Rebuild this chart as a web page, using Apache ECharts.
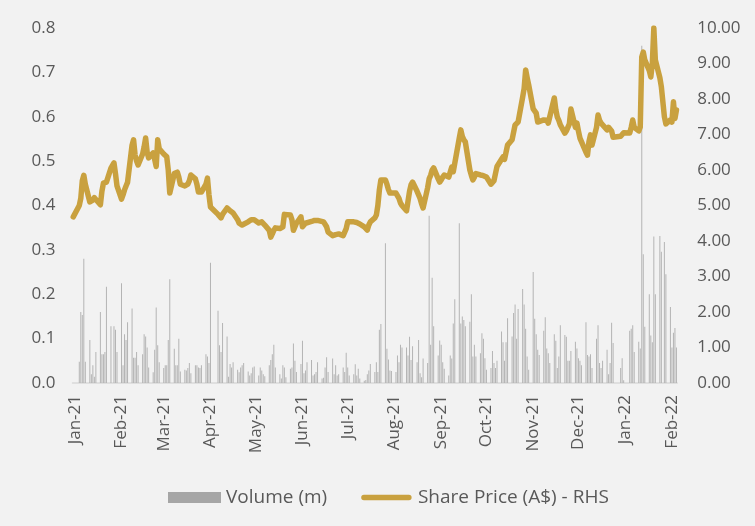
<!DOCTYPE html>
<html>
<head>
<meta charset="utf-8">
<script src="https://cdn.jsdelivr.net/npm/echarts@6/dist/echarts.min.js"></script>
<style>
  html, body { margin: 0; padding: 0; background: #f2f2f2; }
  #chart { width: 755px; height: 526px; }
</style>
</head>
<body>
<div id="chart"></div>
<script>
  // one row per month, one value per weekday (null = market holiday)
  var months = ['2020-12', '2021-01', '2021-02', '2021-03', '2021-04', '2021-05', '2021-06',
                '2021-07', '2021-08', '2021-09', '2021-10', '2021-11', '2021-12', '2022-01', '2022-02'];
  var monthNames = ['Jan', 'Feb', 'Mar', 'Apr', 'May', 'Jun', 'Jul', 'Aug', 'Sep', 'Oct', 'Nov', 'Dec'];

  var sharePrice = [
    [4.68],
    [null, 5.0, 5.2, 5.7, 5.85, 5.6, 5.1, 5.1, 5.15, 5.22, 5.2, 5.02, 5.4, 5.63, 5.65, 5.66, 6.05, null, 6.2, 5.9, 5.55],
    [5.18, 5.3, 5.44, 5.55, 5.65, 6.7, 6.85, 6.42, 6.25, 6.14, 6.45, 6.65, 6.9, 6.5, 6.34, 6.48, 6.3, 6.1, 6.85, 6.6],
    [6.45, 6.42, 6.37, 6.0, 5.35, 5.9, 5.94, 5.94, 5.8, 5.6, 5.55, 5.58, 5.6, 5.7, 5.86, 5.75, 5.6, 5.38, 5.38, 5.38, 5.6, 5.77, 5.3],
    [4.96, null, null, 4.75, 4.7, 4.65, 4.75, 4.93, 4.9, 4.85, 4.82, 4.79, 4.6, 4.5, 4.47, 4.45, 4.5, 4.54, 4.58, 4.6, 4.65, 4.6],
    [4.51, 4.55, 4.54, 4.5, 4.45, 4.3, 4.11, 4.2, 4.3, 4.37, 4.35, 4.39, 4.4, 4.75, 4.79, 4.73, 4.6, 4.3, 4.25, 4.5, 4.68],
    [4.4, 4.45, 4.5, 4.54, 4.55, 4.56, 4.58, 4.59, 4.58, null, 4.54, 4.5, 4.4, 4.25, 4.15, 4.11, 4.18, 4.23, 4.2, 4.15, 4.11, 4.35],
    [4.54, 4.55, 4.54, 4.54, 4.52, 4.5, 4.48, 4.4, 4.35, 4.31, 4.45, 4.54, 4.65, 4.73, 5.0, 5.44, 5.72, 5.72, 5.6, 5.45, 5.35, 5.3],
    [5.35, 5.38, 5.2, 5.07, 5.0, 4.85, 4.82, 5.4, 5.58, 5.66, 5.4, 5.38, 5.2, 5.05, 4.93, 5.5, 5.75, 5.85, 6.0, 6.06, 5.75, 5.66],
    [5.72, 5.8, 5.86, 5.8, 5.77, 6.08, 5.95, 5.92, 6.9, 7.13, 6.95, 6.85, 6.79, 6.0, 5.85, 5.72, 5.8, 5.9, 5.86, 5.86, 5.84, 5.8],
    [5.8, 5.6, 5.55, 5.7, 5.9, 6.1, 6.3, 6.37, 6.3, 6.28, 6.7, 6.85, 6.9, 7.27, 7.3, 7.35, 8.05, 8.3, 8.82, 8.6, 8.4],
    [7.72, 7.75, 7.6, 7.35, 7.38, 7.41, 7.38, 7.4, 7.32, 7.5, 8.03, 7.7, 7.49, 7.4, 7.27, 7.04, 7.1, 7.13, 7.3, 7.72, 7.2, 7.32],
    [7.1, 6.9, 6.8, 6.5, 6.42, 6.8, 6.99, 6.7, 7.2, 7.55, 7.4, 7.32, 7.3, 7.13, 7.2, 7.21, 7.1, 6.92, null, null, 6.95, 6.99, 7.05],
    [null, 7.04, 7.2, 7.41, 7.2, 7.1, 7.21, 9.18, 9.32, 9.1, 8.8, 8.62, 9.0, 10.0, 9.1, 8.6, 8.34, null, 7.5, 7.3, 7.41],
    [7.35, 7.92, 7.45, 7.69]
  ];

  var volume = [
    [0],
    [0, 0.048, 0.16, 0.153, 0.28, 0.048, 0.097, 0.02, 0.04, 0.014, 0.07, 0.16, 0.065, 0.065, 0.07, 0.217, 0.128, 0, 0.128, 0.12, 0.07],
    [0.225, 0.04, 0.11, 0.097, 0.137, 0.168, 0.057, 0.057, 0.07, 0.04, 0.065, 0.11, 0.105, 0.08, 0.035, 0.024, 0.075, 0.17, 0.085, 0.047],
    [0.034, 0.04, 0.04, 0.097, 0.234, 0.077, 0.04, 0.04, 0.1, 0.026, 0.03, 0.028, 0.034, 0.045, 0.022, 0.04, 0.04, 0.035, 0.034, 0.04, 0.065, 0.06, 0.045],
    [0.271, 0, 0, 0.163, 0.085, 0.07, 0.135, 0.105, 0.014, 0.043, 0.035, 0.047, 0.03, 0.024, 0.035, 0.04, 0.045, 0.026, 0.017, 0.022, 0.035, 0.037],
    [0.017, 0.035, 0.028, 0.02, 0.015, 0.04, 0.052, 0.065, 0.086, 0.035, 0.02, 0.01, 0.04, 0.035, 0.013, 0.032, 0.035, 0.089, 0.05, 0.025, 0.043],
    [0.095, 0.022, 0.028, 0.047, 0.052, 0.017, 0.02, 0.025, 0.047, 0.01, 0.012, 0.035, 0.058, 0.025, 0.055, 0.02, 0.04, 0.017, 0.02, 0.035, 0.025, 0.068],
    [0.035, 0.017, 0.02, 0.042, 0.017, 0.032, 0.01, 0.005, 0.007, 0.02, 0.028, 0.043, 0.025, 0.047, 0.025, 0.12, 0.133, 0.315, 0.077, 0.053, 0.028, 0.027],
    [0.025, 0.062, 0.047, 0.086, 0.08, 0.08, 0.062, 0.104, 0.052, 0.083, 0.047, 0.097, 0.022, 0.013, 0.055, 0.045, 0.377, 0.086, 0.237, 0.128, 0.062, 0.096],
    [0.086, 0.047, 0.032, 0.017, 0.062, 0.055, 0.134, 0.189, 0.36, 0.134, 0.15, 0.142, 0.128, 0.138, 0.2, 0.06, 0.086, 0.06, 0.067, 0.112, 0.1, 0.056],
    [0.03, 0.034, 0.072, 0.045, 0.034, 0.05, 0.116, 0.092, 0.05, 0.092, 0.146, 0.105, 0.158, 0.177, 0.1, 0.167, 0.212, 0.177, 0.122, 0.06, 0.03],
    [0.25, 0.145, 0.11, 0.075, 0.063, 0.118, 0.148, 0.078, 0.067, 0.045, 0.11, 0.095, 0.034, 0.06, 0.13, 0.108, 0.104, 0.05, 0.05, 0.072, 0.093, 0.078],
    [0.056, 0.05, 0.04, 0.137, 0.063, 0.06, 0.065, 0.034, 0.1, 0.13, 0.045, 0.034, 0.05, 0.075, 0.02, 0.045, 0.136, 0.09, 0, 0, 0.034, 0.056, 0.006],
    [0, 0.118, 0.122, 0.13, 0.07, 0.093, 0.078, 0.76, 0.29, 0.127, 0.2, 0.107, 0.092, 0.33, 0.2, 0.331, 0.296, 0, 0.318, 0.245, 0.171],
    [0.08, 0.113, 0.124, 0.08]
  ];

  // calendar days on the x axis, weekday values dropped into place
  var dayMs = 86400000;
  var firstDay = Date.UTC(2020, 11, 31);
  var lastDay = Date.UTC(2022, 1, 4);
  var days = [], priceData = [], volData = [], dayIndex = {};
  for (var t = firstDay; t <= lastDay; t += dayMs) {
    var d = new Date(t).toISOString().slice(0, 10);
    dayIndex[d] = days.length;
    days.push(d);
    priceData.push(null);
    volData.push(null);
  }
  months.forEach(function (m, mi) {
    var trading = days.filter(function (d) {
      var wd = new Date(d + 'T00:00:00Z').getUTCDay();
      return d.indexOf(m) === 0 && wd >= 1 && wd <= 5;
    });
    trading.forEach(function (d, k) {
      var p = sharePrice[mi][k], v = volume[mi][k];
      priceData[dayIndex[d]] = p === undefined ? null : p;
      volData[dayIndex[d]] = v === undefined ? null : v;
    });
  });

  function isMonthStart(i, val) { return val.slice(8) === '01'; }

  var txt = '#595959';
  var font = 'Open Sans';
  var chart = echarts.init(document.getElementById('chart'));
  chart.setOption({
    animation: false,
    backgroundColor: '#f2f2f2',
    grid: { left: 72.5, width: 604.7, top: 28, bottom: 143 },
    legend: {
      left: 163,
      top: 483,
      itemWidth: 53,
      itemHeight: 11,
      itemGap: 34,
      textStyle: { color: txt, fontSize: 19, fontFamily: font },
      data: [
        { name: 'Volume (m)', icon: 'rect', itemStyle: { color: '#a6a6a6' } },
        { name: 'Share Price (A$) - RHS',
          icon: 'path://M3,3h49a3,3 0 0 1 0,6h-49a3,3 0 0 1 0,-6z M0,0h0.01v12h-0.01z',
          itemStyle: { color: '#c9a13f', borderWidth: 0 } }
      ]
    },
    xAxis: {
      type: 'category',
      data: days,
      axisLine: { lineStyle: { color: '#d9d9d9', width: 1.5 } },
      axisTick: { interval: isMonthStart, alignWithLabel: true, length: 5, lineStyle: { color: '#d9d9d9' } },
      axisLabel: {
        interval: isMonthStart,
        rotate: 90,
        margin: 12,
        color: txt,
        fontSize: 17,
        fontFamily: font,
        formatter: function (val) {
          return monthNames[+val.slice(5, 7) - 1] + '-' + val.slice(2, 4);
        }
      },
      splitLine: { show: false }
    },
    yAxis: [
      {
        type: 'value', min: 0, max: 0.8, interval: 0.1,
        axisLine: { show: false }, axisTick: { show: false }, splitLine: { show: false },
        axisLabel: { color: txt, fontSize: 17, fontFamily: font, margin: 17,
                     formatter: function (v) { return v.toFixed(1); } }
      },
      {
        type: 'value', min: 0, max: 10, interval: 1,
        axisLine: { show: false }, axisTick: { show: false }, splitLine: { show: false },
        axisLabel: { color: txt, fontSize: 17, fontFamily: font, margin: 20,
                     formatter: function (v) { return v.toFixed(2); } }
      }
    ],
    series: [
      {
        name: 'Volume (m)',
        type: 'bar',
        yAxisIndex: 0,
        barWidth: 1,
        color: '#b4b4b4',
        data: volData
      },
      {
        name: 'Share Price (A$) - RHS',
        type: 'line',
        yAxisIndex: 1,
        symbol: 'none',
        connectNulls: true,
        color: '#c9a13f',
        lineStyle: { color: '#c9a13f', width: 5.5, cap: 'round', join: 'round' },
        data: priceData
      }
    ]
  });
</script>
</body>
</html>
